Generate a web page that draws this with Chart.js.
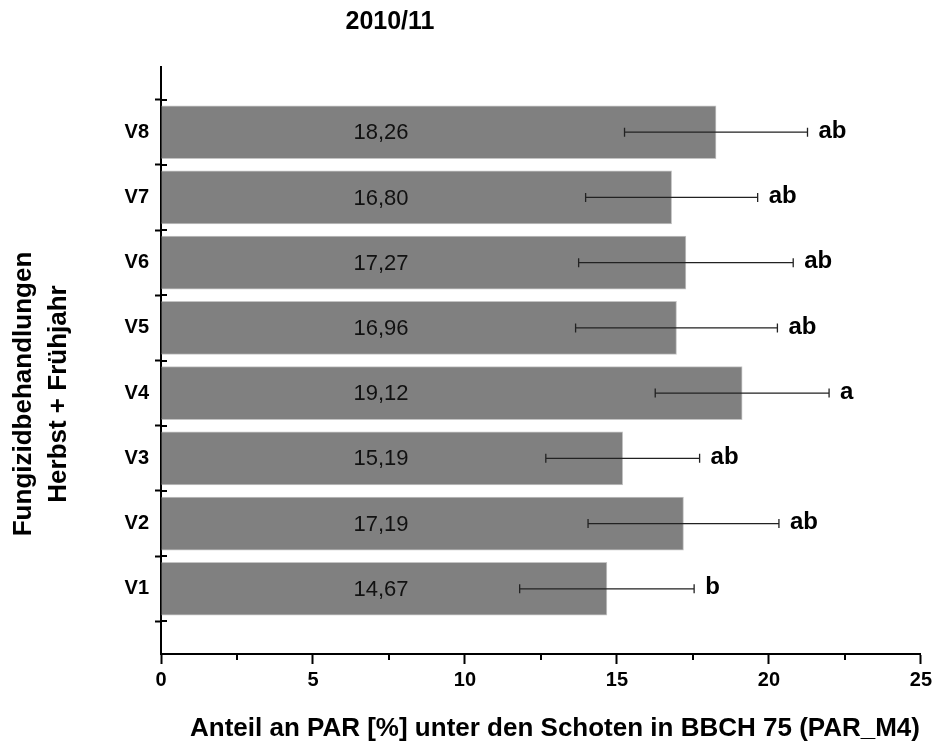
<!DOCTYPE html>
<html><head><meta charset="utf-8">
<script src="https://cdn.jsdelivr.net/npm/chart.js@4/dist/chart.umd.min.js"></script>
<style>html,body{margin:0;padding:0;background:#fff}#wrap{width:936px;height:744px}</style>
</head><body><div id="wrap"><canvas id="c" width="936" height="744"></canvas></div>
<script>
const categories = ['V1','V2','V3','V4','V5','V6','V7','V8'];
const means = [14.67, 17.19, 15.19, 19.12, 16.96, 17.27, 16.80, 18.26];
const errors = [2.87, 3.14, 2.53, 2.86, 3.32, 3.53, 2.83, 3.01];
const letters = ['b','ab','ab','a','ab','ab','ab','ab'];
const xTickValues = [0, 2.5, 5, 7.5, 10, 12.5, 15, 17.5, 20, 22.5, 25];
const chartTitle = '2010/11';
const xTitle = 'Anteil an PAR [%] unter den Schoten in BBCH 75 (PAR_M4)';
const yTitle = ['Fungizidbehandlungen', 'Herbst + Frühjahr'];

const FAM = '"Liberation Sans", Arial, sans-serif';
const allY = [0.5].concat(categories.map((c, i) => [i + 1, i + 1.5]).flat());

const overlay = {
  id: 'overlay',
  afterDraw(chart) {
    const {ctx, chartArea, scales} = chart;
    const x = scales.x, y = scales.y;
    const meta = chart.getDatasetMeta(0);
    ctx.save();
    ctx.strokeStyle = '#000'; ctx.lineWidth = 2;
    allY.forEach(v => {
      if (!Number.isInteger(v)) {
        const py = Math.round(y.getPixelForValue(v));
        ctx.beginPath(); ctx.moveTo(chartArea.left, py); ctx.lineTo(chartArea.left + 6, py); ctx.stroke();
      }
    });
    xTickValues.forEach(v => {
      if (v % 5 !== 0) {
        const px = Math.round(x.getPixelForValue(v));
        ctx.beginPath(); ctx.moveTo(px, chartArea.bottom); ctx.lineTo(px, chartArea.bottom + 6); ctx.stroke();
      }
    });
    meta.data.forEach((bar, i) => {
      const py = bar.y;
      ctx.fillStyle = '#111';
      ctx.font = '22px ' + FAM;
      ctx.textAlign = 'center'; ctx.textBaseline = 'middle';
      ctx.fillText(means[i].toFixed(2).replace('.', ','), x.getPixelForValue(7.24), py + 1);
      const lo = x.getPixelForValue(means[i] - errors[i]);
      const hi = x.getPixelForValue(means[i] + errors[i]);
      ctx.strokeStyle = '#222'; ctx.lineWidth = 1.3;
      ctx.beginPath();
      ctx.moveTo(lo, py); ctx.lineTo(hi, py);
      ctx.moveTo(lo, py - 4.5); ctx.lineTo(lo, py + 4.5);
      ctx.moveTo(hi, py - 4.5); ctx.lineTo(hi, py + 4.5);
      ctx.stroke();
      ctx.fillStyle = '#000';
      ctx.font = 'bold 24px ' + FAM;
      ctx.textAlign = 'left';
      ctx.fillText(letters[i], hi + 11, py - 1);
    });
    ctx.fillStyle = '#000';
    ctx.font = 'bold 25px ' + FAM;
    ctx.textAlign = 'center'; ctx.textBaseline = 'middle';
    ctx.fillText(chartTitle, 390, 22);
    ctx.font = 'bold 26px ' + FAM;
    ctx.fillText(xTitle, 555, 729);
    [[24, yTitle[0]], [59, yTitle[1]]].forEach(([px, t]) => {
      ctx.save();
      ctx.translate(px, 394);
      ctx.rotate(-Math.PI / 2);
      ctx.fillText(t, 0, 0);
      ctx.restore();
    });
    ctx.restore();
  }
};

new Chart(document.getElementById('c'), {
  type: 'bar',
  data: {
    datasets: [{
      data: categories.map((c, i) => ({ x: means[i], y: i + 1 })),
      backgroundColor: '#808080',
      borderColor: '#c4c4c4',
      borderWidth: 1,
      barThickness: 53
    }]
  },
  options: {
    responsive: false,
    animation: false,
    devicePixelRatio: 1,
    indexAxis: 'y',
    layout: { padding: { top: 67, right: 15, bottom: 48, left: 0 } },
    plugins: { legend: { display: false }, tooltip: { enabled: false }, title: { display: false } },
    scales: {
      x: {
        type: 'linear', min: 0, max: 25, position: 'bottom',
        afterBuildTicks: s => { s.ticks = xTickValues.map(v => ({ value: v })); },
        ticks: {
          callback: v => (v % 5 === 0 ? String(v) : ''),
          autoSkip: false, maxRotation: 0, padding: 4,
          color: '#000', font: { family: FAM, size: 20, weight: 'bold' }
        },
        grid: {
          drawOnChartArea: false, tickLength: 10, tickWidth: 2,
          tickColor: c => (c.tick && c.tick.value % 5 === 0 ? '#000' : 'rgba(0,0,0,0)')
        },
        border: { color: '#000', width: 2 }
      },
      y: {
        type: 'linear', min: 0, max: 9, position: 'left', offset: false,
        afterBuildTicks: s => { s.ticks = allY.map(v => ({ value: v })); },
        afterFit: s => { s.width = 161; },
        ticks: {
          callback: v => (Number.isInteger(v) ? categories[v - 1] : ''),
          autoSkip: false, padding: 6,
          color: '#000', font: { family: FAM, size: 20, weight: 'bold' }
        },
        grid: {
          offset: false,
          drawOnChartArea: false, tickLength: 6, tickWidth: 2,
          tickColor: c => (c.tick && Number.isInteger(c.tick.value) ? 'rgba(0,0,0,0)' : '#000')
        },
        border: { color: '#000', width: 2 }
      }
    }
  },
  plugins: [overlay]
});
</script>
</body></html>
